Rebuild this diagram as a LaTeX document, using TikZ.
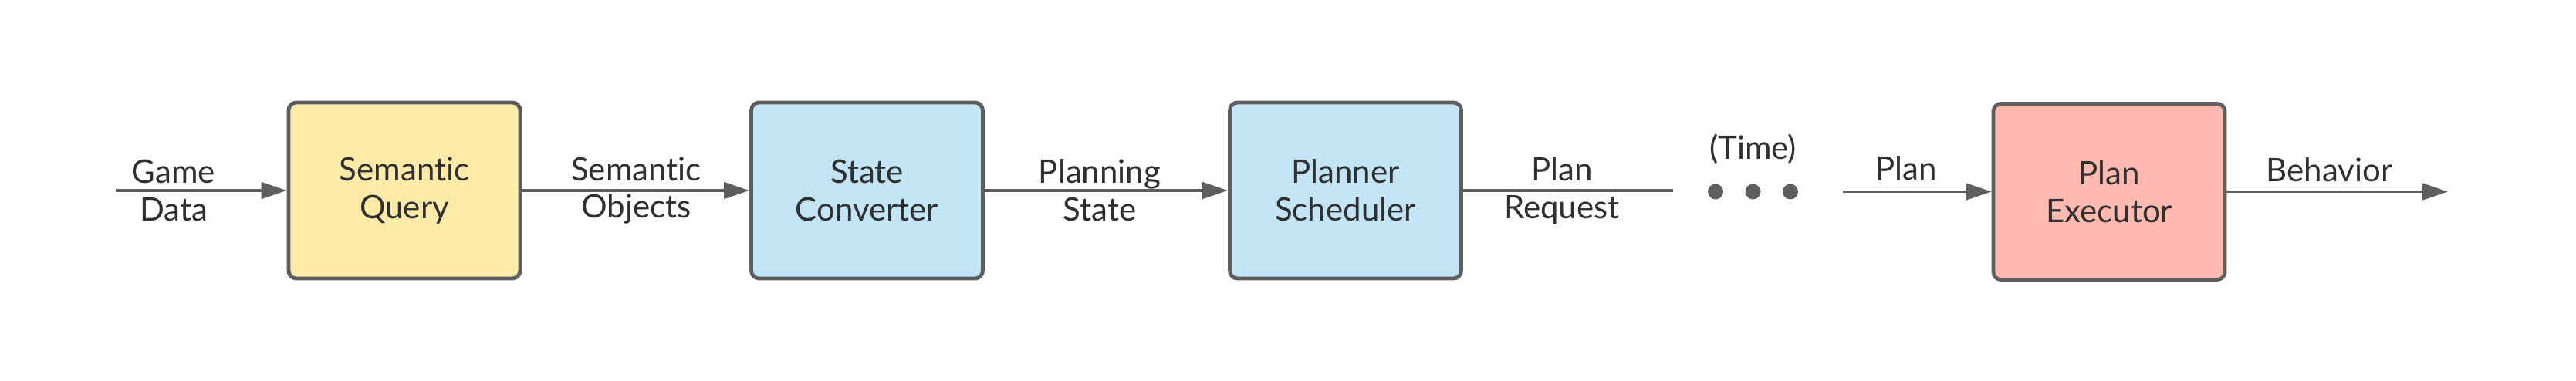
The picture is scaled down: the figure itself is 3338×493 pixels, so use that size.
\documentclass[tikz,border=0pt]{standalone}
\usepackage{fontspec}
\setmainfont{Lato}[Ligatures={NoCommon}]
\usetikzlibrary{arrows.meta}
\definecolor{edgegray}{HTML}{5E5E5E}
\definecolor{txtgray}{HTML}{303030}
\definecolor{qyellow}{HTML}{FEEBA8}
\definecolor{qblue}{HTML}{C2E4F5}
\definecolor{qred}{HTML}{FFB9AF}
\tikzset{
  block/.style={draw=edgegray, line width=1.45pt, rounded corners=3pt,
    minimum width=300*0.3pt, minimum height=228*0.3pt, inner sep=0pt,
    align=center, font=\fontsize{12.6pt}{14.6pt}\selectfont, text=txtgray},
  lbl/.style={align=center, font=\fontsize{12.6pt}{14.6pt}\selectfont, text=txtgray, inner sep=0pt},
  flow/.style={draw=edgegray, line width=1.15pt,
    -{Triangle[length=9.9pt, width=6.4pt]}},
  plain/.style={draw=edgegray, line width=1.15pt},
  dot/.style={circle, fill=edgegray, minimum size=6pt, inner sep=0pt}
}
\begin{document}
\begin{tikzpicture}[x=0.3pt, y=-0.3pt]
\useasboundingbox (0,0) rectangle (3338,493);
% boxes
\node[block, fill=qyellow] (sq) at (524,247) {Semantic\\Query};
\node[block, fill=qblue] (sc) at (1123.5,247) {State\\Converter};
\node[block, fill=qblue] (ps) at (1743.5,247) {Planner\\Scheduler};
\node[block, fill=qred] (pe) at (2733,248.5) {Plan\\Executor};
% free ends
\coordinate (in) at (150,247);
\coordinate (reqend) at (2168,247);
\coordinate (planstart) at (2388,248.5);
\coordinate (out) at (3172,248.5);
% dots and time
\node[dot] (d1) at (2223,248.5) {};
\node[dot] (d2) at (2271.5,248.5) {};
\node[dot] (d3) at (2320,248.5) {};
\node[lbl, anchor=base] (time) at (2271.5,206.5) {(Time)};
% connectors
\draw[flow] (in) -- (sq.west);
\draw[flow] (sq.east) -- (sc.west);
\draw[flow] (sc.east) -- (ps.west);
\draw[plain] (ps.east) -- (reqend);
\draw[flow] (planstart) -- (pe.west);
\draw[flow] (pe.east) -- (out);
% labels
\node[lbl] (l1) at (225,247) {Game\\Data};
\node[lbl] (l2) at (824.5,247) {Semantic\\Objects};
\node[lbl] (l3) at (1425,247) {Planning\\State};
\node[lbl] (l4) at (2024,247) {Plan\\Request};
\node[lbl, anchor=base] (l5) at (2470,233) {Plan};
\node[lbl, anchor=base] (l6) at (3018.5,235) {Behavior};
\end{tikzpicture}
\end{document}
